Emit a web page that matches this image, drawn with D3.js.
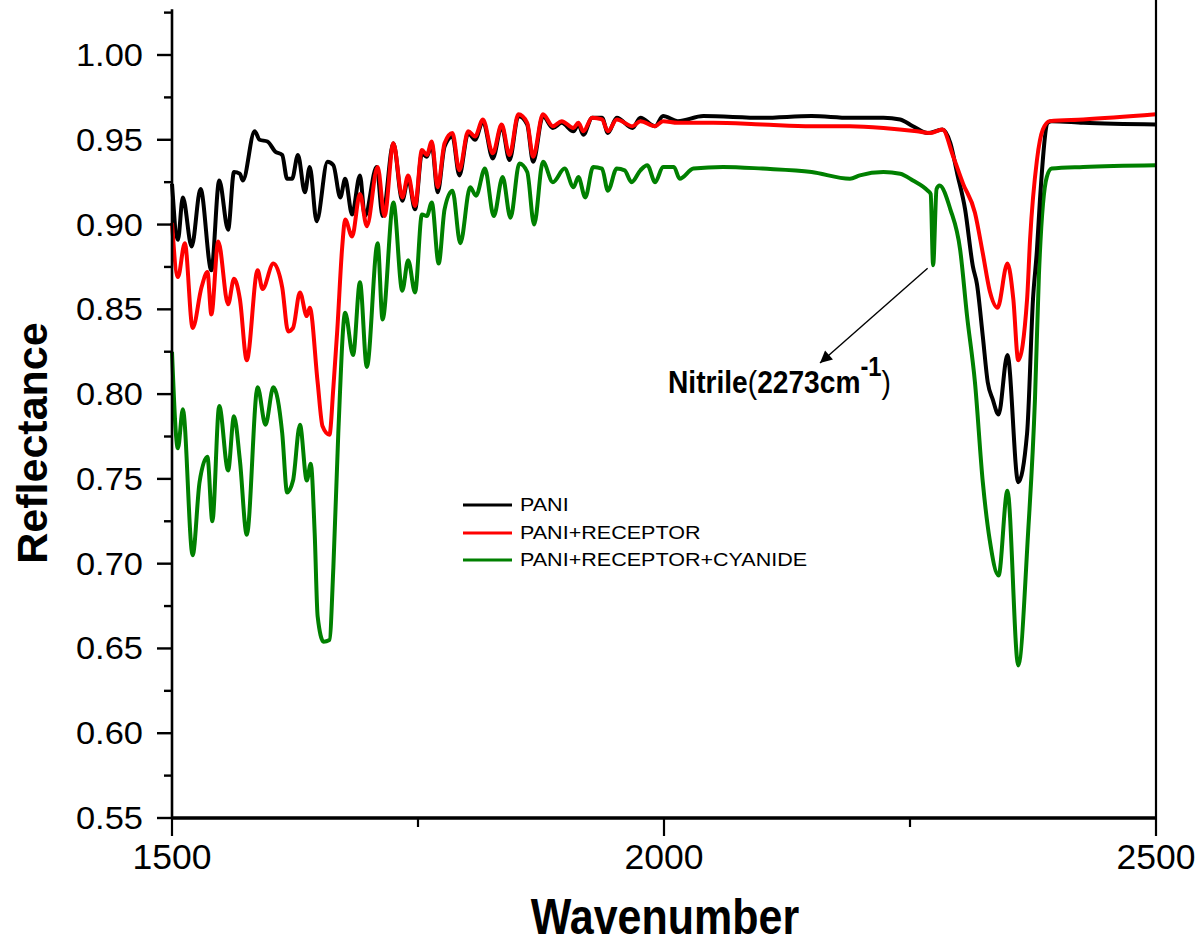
<!DOCTYPE html>
<html><head><meta charset="utf-8">
<script src="https://cdn.jsdelivr.net/npm/d3@7"></script>
<style>body{margin:0;background:#fff} svg{display:block}</style>
</head><body>
<svg id="c" width="1201" height="944"></svg>
<script>
// ---------- data ----------
const xMajorTicks = [1500, 2000, 2500];
const xMinorTicks = [1750, 2250];
const xTickLabels = ["1500", "2000", "2500"];
const yMajorTicks = [0.55, 0.60, 0.65, 0.70, 0.75, 0.80, 0.85, 0.90, 0.95, 1.00];
const yMinorTicks = [0.575, 0.625, 0.675, 0.725, 0.775, 0.825, 0.875, 0.925, 0.975, 1.025];
const yTickLabels = ["0.55", "0.60", "0.65", "0.70", "0.75", "0.80", "0.85", "0.90", "0.95", "1.00"];
const seriesNames = ["PANI", "PANI+RECEPTOR", "PANI+RECEPTOR+CYANIDE"];
const seriesColors = ["#000000", "#ff0000", "#008000"];

const paniWn = [1500,1506,1511,1520,1529,1540,1548,1557,1563,1569,1572,1584,1589,1597,1605,1612,1617,1622,1628,1635,1640,1647,1658,1664,1671,1676,1683,1691,1696,1708,1714,1725,1734,1740,1747,1754,1759,1764,1770,1777,1785,1792,1801,1808,1816,1826,1835,1843,1852,1861,1867,1877,1887,1896,1908,1913,1918,1927,1937,1943,1952,1968,1976,1991,1999,2014,2040,2100,2150,2189,2223,2240,2253,2268,2283,2291,2298,2306,2314,2318,2324,2329,2334,2340,2349,2360,2369,2375,2379,2382,2390,2394,2426,2500];
const paniR = [0.924,0.891,0.916,0.887,0.921,0.873,0.926,0.897,0.931,0.930,0.926,0.955,0.950,0.949,0.943,0.941,0.927,0.927,0.941,0.919,0.934,0.902,0.937,0.935,0.916,0.927,0.906,0.929,0.905,0.934,0.905,0.948,0.914,0.927,0.909,0.942,0.940,0.947,0.919,0.946,0.952,0.929,0.954,0.950,0.961,0.939,0.958,0.938,0.964,0.959,0.937,0.964,0.957,0.960,0.955,0.959,0.953,0.963,0.963,0.954,0.963,0.957,0.963,0.958,0.964,0.961,0.964,0.963,0.964,0.963,0.963,0.962,0.958,0.954,0.956,0.948,0.930,0.909,0.875,0.865,0.834,0.807,0.797,0.788,0.823,0.748,0.777,0.856,0.885,0.914,0.960,0.961,0.960,0.959];

const receptorWn = [1500,1506,1513,1521,1530,1536,1540,1547,1557,1563,1569,1576,1587,1592,1603,1612,1618,1623,1630,1637,1640,1648,1653,1660,1664,1668,1673,1676,1683,1691,1698,1709,1716,1725,1734,1740,1747,1754,1759,1764,1770,1777,1785,1792,1801,1808,1816,1826,1835,1843,1852,1861,1867,1877,1887,1896,1908,1913,1918,1927,1937,1943,1952,1968,1976,1991,1999,2014,2050,2100,2150,2189,2223,2257,2270,2283,2294,2304,2316,2324,2331,2339,2349,2355,2360,2369,2372,2379,2385,2392,2426,2500];
const receptorR = [0.901,0.869,0.889,0.839,0.863,0.872,0.847,0.890,0.853,0.868,0.856,0.820,0.873,0.862,0.877,0.863,0.837,0.839,0.860,0.846,0.851,0.807,0.781,0.776,0.804,0.838,0.887,0.903,0.893,0.918,0.899,0.934,0.905,0.948,0.916,0.929,0.911,0.944,0.941,0.949,0.922,0.948,0.954,0.932,0.955,0.952,0.962,0.942,0.959,0.941,0.965,0.960,0.940,0.965,0.958,0.961,0.957,0.960,0.955,0.963,0.962,0.955,0.962,0.958,0.961,0.958,0.961,0.960,0.960,0.959,0.958,0.958,0.957,0.955,0.954,0.956,0.940,0.924,0.907,0.883,0.861,0.851,0.877,0.856,0.820,0.856,0.891,0.938,0.956,0.961,0.962,0.965];

const cyanideWn = [1500,1506,1511,1521,1528,1536,1541,1548,1557,1563,1569,1576,1587,1595,1603,1612,1617,1623,1630,1637,1641,1645,1648,1654,1660,1664,1669,1676,1684,1691,1698,1709,1714,1725,1734,1740,1747,1754,1759,1764,1771,1777,1785,1793,1803,1809,1818,1827,1836,1844,1853,1861,1868,1877,1887,1899,1908,1913,1920,1928,1937,1943,1952,1960,1967,1976,1983,1991,1999,2010,2016,2030,2060,2100,2150,2189,2199,2223,2240,2253,2268,2271,2273.5,2277,2280,2291,2301,2308,2316,2324,2331,2340,2349,2360,2370,2377,2381,2389,2394,2426,2500];
const cyanideR = [0.825,0.768,0.791,0.705,0.748,0.763,0.725,0.793,0.755,0.787,0.761,0.717,0.804,0.782,0.804,0.777,0.742,0.749,0.782,0.749,0.759,0.718,0.669,0.654,0.655,0.698,0.777,0.848,0.823,0.866,0.816,0.889,0.844,0.913,0.861,0.879,0.860,0.906,0.905,0.913,0.877,0.909,0.920,0.889,0.922,0.917,0.933,0.905,0.928,0.904,0.936,0.931,0.900,0.937,0.925,0.933,0.922,0.928,0.916,0.934,0.933,0.920,0.933,0.932,0.925,0.932,0.935,0.925,0.934,0.934,0.927,0.933,0.934,0.933,0.931,0.927,0.929,0.931,0.930,0.926,0.920,0.918,0.876,0.921,0.923,0.909,0.885,0.846,0.807,0.748,0.714,0.693,0.743,0.640,0.718,0.797,0.870,0.928,0.933,0.934,0.935];

const annotationWn = 2273;
const annotationR = 0.876;

// ---------- layout ----------
const svg = d3.select("#c");
const FONT = "'Liberation Sans', Arial, Helvetica, sans-serif";
const x = d3.scaleLinear().domain([1500, 2500]).range([172, 1156]);
const y = d3.scaleLinear().domain([0.55, 1.00]).range([818, 55]);
const yTop = 1.027;

const series = [
  {wn: paniWn, r: paniR},
  {wn: receptorWn, r: receptorR},
  {wn: cyanideWn, r: cyanideR}
];

// spectra
const line = d3.line().x(d => x(d[0])).y(d => y(d[1])).curve(d3.curveMonotoneX);
const order = [2, 0, 1];
order.forEach(i => {
  const s = series[i];
  const pts = s.wn.map((w, k) => [w, s.r[k]]);
  svg.append("path").datum(pts)
    .attr("d", line)
    .attr("fill", "none")
    .attr("stroke", seriesColors[i])
    .attr("stroke-width", 4)
    .attr("stroke-linejoin", "round");
});

// y axis (left)
const yAxisG = svg.append("g").attr("transform", `translate(${x(1500)},0)`);
yAxisG.append("line").attr("x1", 0).attr("x2", 0)
  .attr("y1", y(0.55)).attr("y2", y(yTop)).attr("stroke", "#000").attr("stroke-width", 2.6);
yMajorTicks.forEach(v => {
  yAxisG.append("line").attr("x1", -15).attr("x2", 0).attr("y1", y(v)).attr("y2", y(v))
    .attr("stroke", "#000").attr("stroke-width", 2.4);
});
yMinorTicks.forEach(v => {
  yAxisG.append("line").attr("x1", -8).attr("x2", 0).attr("y1", y(v)).attr("y2", y(v))
    .attr("stroke", "#000").attr("stroke-width", 2.4);
});
yMajorTicks.forEach((v, i) => {
  svg.append("text")
    .attr("transform", `translate(143,${y(v)}) scale(1.13,1)`)
    .attr("text-anchor", "end").attr("dy", "0.36em")
    .attr("font-family", FONT).attr("font-size", 30.5)
    .attr("fill", "#000")
    .text(yTickLabels[i]);
});

// right spine
svg.append("line").attr("x1", x(2500)).attr("x2", x(2500))
  .attr("y1", 0).attr("y2", y(0.55)).attr("stroke", "#000").attr("stroke-width", 2.2);

// x axis (bottom)
const xAxisG = svg.append("g").attr("transform", `translate(0,${y(0.55)})`);
xAxisG.append("line").attr("x1", x(1500)).attr("x2", x(2500)).attr("y1", 0).attr("y2", 0)
  .attr("stroke", "#000").attr("stroke-width", 3.4);
xMajorTicks.forEach((w, i) => {
  xAxisG.append("line").attr("x1", x(w)).attr("x2", x(w)).attr("y1", 0).attr("y2", 18)
    .attr("stroke", "#000").attr("stroke-width", 2.2);
  xAxisG.append("text").attr("x", x(w)).attr("y", 51)
    .attr("text-anchor", "middle").attr("font-family", FONT).attr("font-size", 35.5)
    .attr("fill", "#000").text(xTickLabels[i]);
});
xMinorTicks.forEach(w => {
  xAxisG.append("line").attr("x1", x(w)).attr("x2", x(w)).attr("y1", 0).attr("y2", 9)
    .attr("stroke", "#000").attr("stroke-width", 2.2);
});

// axis titles
svg.append("text").attr("transform", "translate(665,934) scale(0.86,1)")
  .attr("text-anchor", "middle").attr("font-family", FONT).attr("font-weight", "bold")
  .attr("font-size", 50).attr("fill", "#000").text("Wavenumber");
svg.append("text").attr("transform", "translate(47,443) rotate(-90)")
  .attr("text-anchor", "middle").attr("font-family", FONT).attr("font-weight", "bold")
  .attr("font-size", 43).attr("fill", "#000").text("Reflectance");

// legend
const legendRows = [505, 533, 560];
seriesNames.forEach((name, i) => {
  svg.append("line").attr("x1", 463).attr("x2", 512)
    .attr("y1", legendRows[i]).attr("y2", legendRows[i])
    .attr("stroke", seriesColors[i]).attr("stroke-width", 3.2);
  svg.append("text")
    .attr("transform", `translate(520,${legendRows[i]}) scale(1.21,1)`)
    .attr("dy", "0.36em")
    .attr("font-family", FONT).attr("font-size", 17.8).attr("fill", "#000")
    .text(name);
});

// annotation arrow
const defs = svg.append("defs");
defs.append("marker").attr("id", "ah").attr("viewBox", "0 0 10 10")
  .attr("refX", 10).attr("refY", 5).attr("markerWidth", 16).attr("markerHeight", 12)
  .attr("markerUnits", "userSpaceOnUse").attr("orient", "auto")
  .append("path").attr("d", "M0,0 L10,5 L0,10 z").attr("fill", "#000");
const ax0 = x(annotationWn) - 5, ay0 = y(annotationR) + 3;
svg.append("line").attr("x1", ax0).attr("y1", ay0).attr("x2", 820).attr("y2", 363)
  .attr("stroke", "#000").attr("stroke-width", 1.4).attr("marker-end", "url(#ah)");

const ann = svg.append("text")
  .attr("transform", "translate(668,393) scale(0.88,1)")
  .attr("font-family", FONT).attr("font-size", 32).attr("fill", "#000");
ann.append("tspan").attr("font-weight", "bold").text("Nitrile");
ann.append("tspan").text("(");
ann.append("tspan").attr("font-weight", "bold").text("2273cm");
ann.append("tspan").attr("font-weight", "bold").attr("font-size", 27).attr("dy", -17).text("-1");
ann.append("tspan").attr("dy", 17).text(")");
</script>
</body></html>
